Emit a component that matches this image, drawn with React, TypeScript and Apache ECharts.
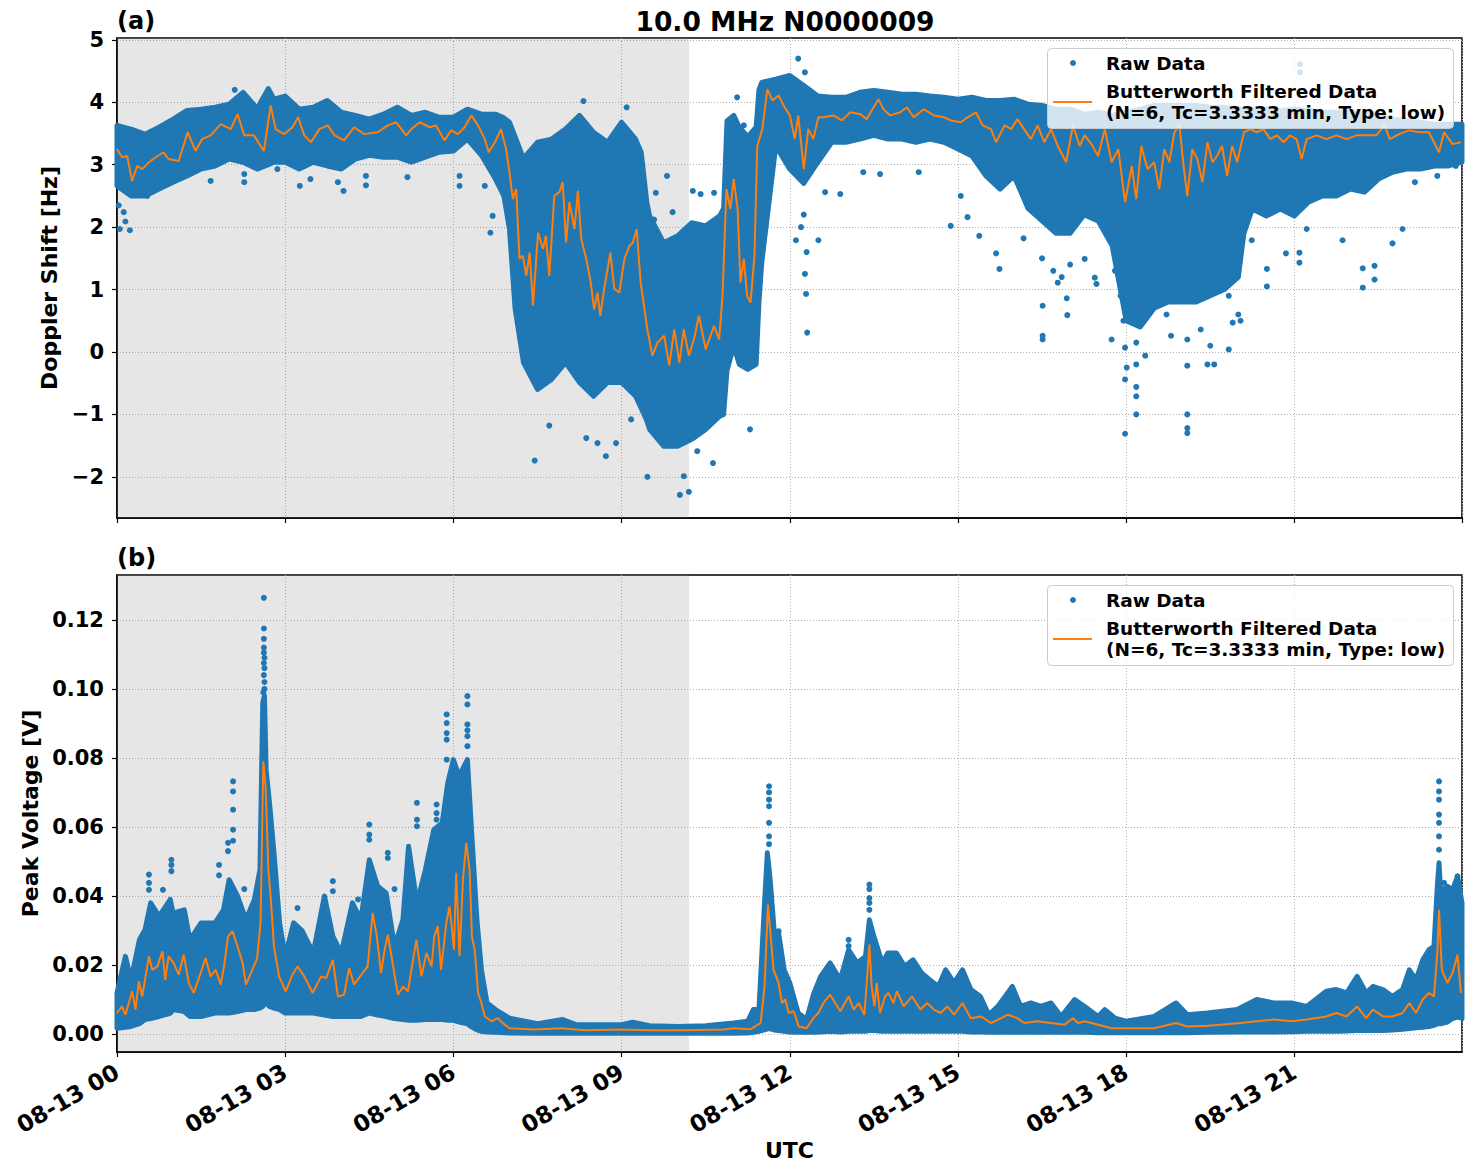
import React, { useEffect, useRef } from "react";
import * as echarts from "echarts";

const BLUE = "#1f77b4";
const ORANGE = "#ff7f0e";
const FONT = '"DejaVu Sans", sans-serif';

const TITLE = "10.0 MHz N0000009";
const DATE_PREFIX = "08-13";
const X_TICKS_INTERVAL = 3;
const Y_TICKS_A = [-2, -1, 0, 1, 2, 3, 4, 5];
const Y_TICKS_B = [0, 0.02, 0.04, 0.06, 0.08, 0.1, 0.12];
const SHADE_START = 0;
const SHADE_END = 10.2;
const LEGEND_RAW = "Raw Data";
const LEGEND_FILT_1 = "Butterworth Filtered Data";
const LEGEND_FILT_2 = "(N=6, Tc=3.3333 min, Type: low)";

// ---------- Panel (a): Doppler shift [Hz] ----------
// dense raw-data cloud: time (h), upper edge, lower edge
const envTimesA = [0, 0.25, 0.5, 0.75, 1, 1.25, 1.5, 1.75, 2, 2.25, 2.5, 2.7, 2.8, 3, 3.25, 3.5, 3.75, 4, 4.25, 4.5, 4.75, 5, 5.25, 5.5, 5.75, 6, 6.25, 6.5, 6.75, 6.9, 7, 7.1, 7.25, 7.5, 7.75, 8, 8.25, 8.5, 8.75, 9, 9.25, 9.35, 9.45, 9.5, 9.75, 10, 10.25, 10.5, 10.75, 10.82, 10.88, 11, 11.1, 11.25, 11.4, 11.45, 11.5, 11.75, 12, 12.25, 12.5, 12.75, 13, 13.25, 13.5, 13.75, 14, 14.25, 14.5, 14.75, 15, 15.25, 15.5, 15.75, 16, 16.25, 16.5, 16.75, 17, 17.25, 17.5, 17.75, 18, 18.25, 18.5, 18.75, 19, 19.25, 19.5, 19.75, 20, 20.1, 20.25, 20.5, 20.75, 21, 21.25, 21.5, 21.75, 22, 22.25, 22.5, 22.75, 23, 23.25, 23.5, 23.75, 23.99];
const envHighA = [3.63, 3.57, 3.49, 3.6, 3.73, 3.87, 3.89, 3.92, 3.97, 4.16, 3.9, 4.22, 4.05, 4.1, 3.89, 3.92, 4.03, 3.84, 3.79, 3.73, 3.81, 3.92, 3.79, 3.84, 3.76, 3.76, 3.89, 3.81, 3.81, 3.75, 3.68, 3.45, 3.1, 3.36, 3.41, 3.57, 3.79, 3.52, 3.36, 3.68, 3.41, 3.2, 2.4, 2.18, 1.75, 1.86, 2.07, 2.02, 2.18, 2.3, 3.7, 3.79, 3.6, 3.45, 3.6, 4.2, 4.32, 4.37, 4.43, 4.27, 4.1, 4.08, 4.08, 4.16, 4.19, 4.16, 4.13, 4.13, 4.1, 4.08, 4.05, 4.08, 4.03, 4.03, 4.05, 3.97, 3.95, 3.89, 3.89, 3.81, 3.84, 3.79, 3.84, 3.89, 3.95, 3.95, 3.95, 3.95, 3.92, 3.92, 3.89, 3.89, 3.89, 3.89, 3.87, 3.89, 3.87, 3.84, 3.84, 3.84, 3.81, 3.79, 3.73, 3.71, 3.68, 3.65, 3.65, 3.65];
const envLowA = [2.66, 2.5, 2.5, 2.61, 2.72, 2.82, 2.93, 2.98, 3.09, 3.04, 2.93, 3.0, 3.04, 3.04, 2.93, 3.04, 2.98, 2.93, 3.09, 3.15, 3.12, 3.12, 3.04, 3.12, 3.2, 3.22, 3.41, 3.15, 2.77, 2.5, 1.97, 0.7, -0.17, -0.6, -0.44, -0.17, -0.49, -0.71, -0.49, -0.49, -0.71, -0.9, -1.1, -1.24, -1.51, -1.51, -1.4, -1.24, -1.03, -1.0, -0.3, 0.1, -0.2, -0.28, -0.2, 0.8, 1.43, 3.3, 2.93, 2.7, 3.04, 3.36, 3.36, 3.41, 3.47, 3.41, 3.41, 3.36, 3.41, 3.36, 3.25, 3.14, 2.82, 2.61, 2.82, 2.3, 2.1, 1.9, 1.9, 2.2, 2.1, 1.7, 0.5, 0.4, 0.7, 0.8, 0.8, 0.8, 0.9, 1.0, 1.2, 1.9, 2.29, 2.18, 2.29, 2.18, 2.4, 2.5, 2.5, 2.61, 2.56, 2.77, 2.88, 2.93, 2.93, 2.98, 2.98, 3.04];

// scattered raw points outside the dense cloud
const outTimesA = [0.05, 0.23, 0.15, 0.12, 0.03, 0.54, 1.67, 2.27, 2.27, 2.1, 2.86, 3.26, 3.45, 4.04, 3.94, 4.44, 4.44, 5.18, 6.11, 6.11, 6.66, 6.56, 6.7, 7.45, 7.71, 8.37, 8.57, 8.72, 8.9, 9.17, 9.46, 10.04, 10.2, 10.11, 10.35, 10.63, 11.29, 8.32, 9.09, 9.81, 9.61, 10.27, 10.41, 10.65, 11.06, 11.18, 11.54, 9.58, 9.91, 12.15, 12.27, 12.31, 12.29, 12.27, 12.11, 12.51, 12.9, 12.63, 13.31, 13.61, 14.3, 14.87, 15.05, 15.17, 15.38, 15.74, 15.68, 16.17, 16.51, 16.51, 16.51, 16.95, 16.94, 16.78, 17.44, 17.74, 17.98, 17.98, 18.01, 17.98, 17.47, 17.26, 18.18, 18.18, 18.18, 19.09, 19.09, 19.09, 19.57, 19.09, 19.83, 18.34, 20.04, 20.51, 20.51, 20.85, 21.09, 21.09, 21.1, 21.1, 22.22, 22.22, 22.43, 22.43, 22.75, 22.93, 21.86, 20.24, 21.22, 23.15, 23.55, 23.88, 12.25, 12.3, 12.2, 18.18, 18.18, 18.72, 18.8, 19.09, 19.33, 19.45, 19.5, 19.83, 19.9, 20.0, 16.5, 16.7, 16.85, 17.0, 17.8, 17.9, 17.95];
const outValsA = [1.97, 1.95, 2.09, 2.24, 2.35, 2.5, 2.74, 2.72, 2.85, 4.2, 2.93, 2.66, 2.77, 2.58, 2.72, 2.67, 2.82, 2.8, 2.66, 2.82, 1.91, 2.66, 2.18, -1.74, -1.18, -1.38, -1.46, -1.67, -1.46, -1.08, -2.0, -2.29, -2.24, -1.99, -1.59, -1.78, -1.24, 4.02, 3.92, 2.82, 2.55, 2.58, 2.53, 2.55, 4.08, 3.63, 2.24, 2.12, 2.24, 4.7, 4.48, 0.31, 0.93, 1.25, 1.79, 1.79, 2.53, 2.56, 2.88, 2.85, 2.88, 2.02, 2.5, 2.16, 1.86, 1.33, 1.58, 1.82, 0.74, 0.2, 0.26, 0.59, 0.86, 1.11, 1.19, 0.2, -1.31, -0.44, -0.25, 0.07, 1.09, 1.49, -1.0, -0.71, -0.56, -1.0, -1.22, -1.3, -0.2, -0.22, 0.04, -0.06, 0.5, 1.05, 1.33, 1.58, 1.43, 1.59, 4.61, 4.48, 1.03, 1.34, 1.16, 1.38, 1.74, 1.97, 1.79, 1.79, 1.97, 2.72, 2.82, 2.98, 2.2, 1.6, 2.0, 0.15, -0.2, 0.6, 0.26, 0.2, 0.36, -0.2, 0.1, 0.9, 0.47, 0.6, 1.5, 1.3, 1.2, 1.4, 1.3, 0.9, 0.5];

// Butterworth filtered line
const filtTimesA = [0, 0.09, 0.18, 0.27, 0.36, 0.45, 0.57, 0.69, 0.83, 0.92, 1.1, 1.26, 1.4, 1.52, 1.67, 1.85, 2.03, 2.15, 2.27, 2.44, 2.62, 2.74, 2.83, 2.98, 3.13, 3.23, 3.34, 3.46, 3.61, 3.76, 3.88, 4.05, 4.23, 4.41, 4.65, 4.83, 4.98, 5.16, 5.25, 5.4, 5.58, 5.69, 5.84, 5.96, 6.08, 6.2, 6.32, 6.44, 6.56, 6.63, 6.74, 6.85, 6.94, 7.0, 7.06, 7.12, 7.18, 7.24, 7.3, 7.36, 7.42, 7.51, 7.6, 7.65, 7.71, 7.8, 7.89, 7.95, 8.01, 8.07, 8.16, 8.22, 8.28, 8.37, 8.45, 8.51, 8.57, 8.62, 8.69, 8.8, 8.87, 8.96, 9.05, 9.14, 9.2, 9.27, 9.34, 9.46, 9.55, 9.64, 9.76, 9.85, 9.94, 10.03, 10.11, 10.2, 10.29, 10.38, 10.5, 10.65, 10.74, 10.8, 10.87, 10.94, 11.0, 11.07, 11.12, 11.18, 11.24, 11.3, 11.37, 11.42, 11.51, 11.6, 11.69, 11.8, 11.89, 12.0, 12.09, 12.15, 12.25, 12.33, 12.42, 12.51, 12.6, 12.78, 12.93, 13.08, 13.26, 13.37, 13.58, 13.67, 13.79, 13.97, 14.09, 14.21, 14.39, 14.57, 14.75, 14.87, 15.05, 15.17, 15.32, 15.44, 15.59, 15.68, 15.83, 15.95, 16.06, 16.18, 16.3, 16.42, 16.54, 16.66, 16.78, 16.93, 17.05, 17.17, 17.26, 17.38, 17.5, 17.62, 17.74, 17.86, 17.98, 18.1, 18.18, 18.27, 18.38, 18.5, 18.59, 18.68, 18.77, 18.86, 18.95, 19.03, 19.09, 19.18, 19.27, 19.36, 19.45, 19.54, 19.62, 19.71, 19.8, 19.89, 19.98, 20.1, 20.21, 20.33, 20.45, 20.57, 20.69, 20.81, 20.92, 21.04, 21.13, 21.22, 21.4, 21.57, 21.75, 21.93, 22.11, 22.28, 22.46, 22.61, 22.7, 22.87, 23.04, 23.23, 23.4, 23.58, 23.67, 23.82, 23.97];
const filtValsA = [3.25, 3.12, 3.14, 2.74, 2.98, 2.93, 3.04, 3.12, 3.2, 3.09, 3.06, 3.52, 3.22, 3.41, 3.47, 3.65, 3.57, 3.81, 3.47, 3.47, 3.22, 3.95, 3.57, 3.49, 3.6, 3.76, 3.47, 3.36, 3.57, 3.63, 3.47, 3.39, 3.6, 3.49, 3.52, 3.63, 3.68, 3.47, 3.57, 3.68, 3.6, 3.63, 3.39, 3.55, 3.49, 3.6, 3.79, 3.63, 3.41, 3.2, 3.36, 3.57, 3.25, 2.88, 2.45, 2.61, 1.49, 1.54, 1.22, 1.59, 0.74, 1.91, 1.65, 1.86, 1.22, 2.5, 2.56, 2.72, 1.75, 2.4, 1.97, 2.58, 1.81, 1.49, 1.11, 0.68, 0.95, 0.58, 1.01, 1.59, 1.01, 0.95, 1.49, 1.7, 1.75, 1.97, 1.11, 0.36, -0.06, 0.15, 0.26, -0.22, 0.36, -0.17, 0.36, -0.06, 0.2, 0.58, 0.04, 0.42, 0.2, 0.9, 2.61, 2.29, 2.77, 2.29, 1.11, 1.49, 0.9, 0.79, 1.54, 3.3, 3.57, 4.21, 4.03, 4.11, 3.95, 3.79, 3.41, 3.79, 2.93, 3.57, 3.41, 3.76, 3.76, 3.79, 3.71, 3.84, 3.81, 3.73, 4.05, 3.89, 3.79, 3.84, 3.92, 3.76, 3.89, 3.79, 3.76, 3.71, 3.68, 3.76, 3.84, 3.63, 3.57, 3.36, 3.63, 3.57, 3.73, 3.57, 3.41, 3.63, 3.36, 3.57, 3.3, 3.04, 3.63, 3.3, 3.47, 3.33, 3.14, 3.57, 3.04, 3.25, 2.4, 2.98, 2.45, 3.3, 2.93, 3.04, 2.61, 3.25, 3.04, 3.52, 3.63, 2.93, 2.5, 3.25, 3.09, 2.72, 3.36, 3.04, 3.14, 3.3, 2.82, 3.3, 3.04, 3.52, 3.57, 3.52, 3.57, 3.41, 3.47, 3.36, 3.47, 3.41, 3.09, 3.41, 3.47, 3.41, 3.47, 3.41, 3.47, 3.47, 3.47, 3.63, 3.41, 3.49, 3.55, 3.52, 3.52, 3.2, 3.52, 3.33, 3.36];

// ---------- Panel (b): Peak voltage [V] ----------
const envTimesB = [0, 0.15, 0.25, 0.4, 0.5, 0.6, 0.75, 0.95, 1, 1.2, 1.3, 1.5, 1.75, 1.9, 2, 2.15, 2.3, 2.45, 2.55, 2.6, 2.63, 2.66, 2.72, 2.8, 2.9, 3, 3.15, 3.3, 3.5, 3.7, 3.85, 4, 4.2, 4.35, 4.5, 4.65, 4.8, 4.95, 5.1, 5.2, 5.35, 5.5, 5.65, 5.8, 5.9, 6, 6.1, 6.25, 6.33, 6.42, 6.5, 6.6, 6.75, 7, 7.5, 7.95, 8.2, 9, 9.2, 9.5, 10, 10.5, 11, 11.25, 11.35, 11.45, 11.55, 11.6, 11.65, 11.72, 11.8, 11.9, 12, 12.15, 12.3, 12.42, 12.55, 12.72, 12.9, 13.05, 13.2, 13.35, 13.42, 13.5, 13.65, 13.75, 13.9, 14.05, 14.2, 14.35, 14.5, 14.65, 14.78, 14.93, 15.08, 15.23, 15.4, 15.55, 15.71, 15.97, 16.12, 16.3, 16.48, 16.66, 16.84, 17.08, 17.26, 17.5, 17.62, 17.8, 18, 18.5, 18.89, 19.09, 19.45, 19.98, 20.33, 20.63, 20.95, 21.22, 21.57, 21.75, 21.93, 22.12, 22.28, 22.4, 22.58, 22.75, 22.93, 23.05, 23.17, 23.29, 23.4, 23.49, 23.55, 23.58, 23.62, 23.73, 23.82, 23.91, 23.99];
const envHighB = [0.0119, 0.0225, 0.0157, 0.0273, 0.0302, 0.038, 0.0341, 0.039, 0.035, 0.036, 0.0273, 0.0322, 0.0322, 0.036, 0.0447, 0.04, 0.0331, 0.039, 0.0476, 0.096, 0.098, 0.0766, 0.067, 0.0525, 0.0322, 0.0225, 0.0322, 0.03, 0.0235, 0.04, 0.0283, 0.0235, 0.038, 0.0331, 0.0505, 0.0428, 0.0409, 0.0254, 0.0331, 0.0544, 0.038, 0.0476, 0.0592, 0.0612, 0.0728, 0.0795, 0.0747, 0.0795, 0.0573, 0.0331, 0.0186, 0.009, 0.0071, 0.0046, 0.003, 0.0042, 0.0027, 0.0027, 0.0034, 0.0024, 0.0022, 0.0024, 0.0032, 0.0037, 0.0071, 0.0071, 0.038, 0.0525, 0.0447, 0.0302, 0.0293, 0.0186, 0.0148, 0.0061, 0.0042, 0.0114, 0.0167, 0.0206, 0.0157, 0.0244, 0.0206, 0.0225, 0.0331, 0.0283, 0.0206, 0.0235, 0.0235, 0.0196, 0.0215, 0.0177, 0.0157, 0.0138, 0.0186, 0.0148, 0.0186, 0.0129, 0.0109, 0.0056, 0.008, 0.0138, 0.008, 0.009, 0.008, 0.009, 0.0051, 0.01, 0.008, 0.0051, 0.0071, 0.0046, 0.0037, 0.0051, 0.009, 0.0056, 0.0061, 0.0071, 0.01, 0.009, 0.009, 0.008, 0.0124, 0.0129, 0.0119, 0.0167, 0.0119, 0.0138, 0.0129, 0.0109, 0.0129, 0.0186, 0.0157, 0.0215, 0.0244, 0.0254, 0.0428, 0.0496, 0.038, 0.0428, 0.0418, 0.0457, 0.038];
const envLowB = [0.0017, 0.002, 0.0022, 0.003, 0.0042, 0.0045, 0.0051, 0.006, 0.0071, 0.0065, 0.0051, 0.0051, 0.0061, 0.0061, 0.0061, 0.0065, 0.0071, 0.0071, 0.0075, 0.008, 0.009, 0.009, 0.008, 0.0075, 0.0071, 0.0061, 0.0061, 0.0061, 0.0061, 0.0055, 0.0051, 0.0051, 0.0051, 0.0051, 0.0061, 0.0055, 0.0051, 0.0045, 0.0042, 0.004, 0.004, 0.0042, 0.0042, 0.0042, 0.004, 0.004, 0.0035, 0.003, 0.002, 0.0012, 0.0008, 0.0006, 0.0005, 0.0003, 0.0002, 0.0002, 0.0002, 0.0002, 0.0002, 0.0002, 0.0002, 0.0002, 0.0002, 0.0003, 0.0005, 0.0008, 0.0012, 0.0015, 0.0015, 0.0012, 0.001, 0.0008, 0.0006, 0.0005, 0.0005, 0.0005, 0.0006, 0.0008, 0.0006, 0.0008, 0.0008, 0.0008, 0.001, 0.001, 0.0008, 0.0008, 0.0008, 0.0008, 0.0008, 0.0008, 0.0008, 0.0008, 0.0008, 0.0008, 0.0008, 0.0006, 0.0006, 0.0005, 0.0005, 0.0005, 0.0005, 0.0005, 0.0005, 0.0005, 0.0005, 0.0005, 0.0005, 0.0004, 0.0004, 0.0004, 0.0004, 0.0004, 0.0004, 0.0004, 0.0005, 0.0006, 0.0006, 0.0006, 0.0007, 0.0008, 0.0008, 0.0008, 0.0009, 0.001, 0.001, 0.001, 0.001, 0.0012, 0.0014, 0.0016, 0.0018, 0.002, 0.0022, 0.0025, 0.003, 0.003, 0.003, 0.0035, 0.0045, 0.005, 0.0045];

const outTimesB = [2.62, 2.62, 2.62, 2.62, 2.62, 2.63, 2.62, 2.63, 2.62, 2.63, 2.63, 2.61, 2.07, 2.07, 2.07, 2.07, 2.07, 1.98, 1.98, 0.57, 0.57, 0.57, 0.97, 0.97, 0.97, 0.82, 3.85, 3.85, 4.5, 4.5, 4.5, 4.83, 4.83, 5.35, 5.35, 5.35, 5.7, 5.7, 5.7, 5.88, 5.88, 5.88, 5.88, 5.88, 6.25, 6.25, 6.25, 6.25, 6.25, 6.25, 6.05, 6.05, 11.63, 11.63, 11.63, 11.63, 11.63, 11.63, 11.63, 11.8, 13.42, 13.42, 13.42, 13.42, 13.42, 13.05, 13.05, 23.58, 23.58, 23.58, 23.58, 23.58, 23.58, 23.58, 23.91, 23.91, 23.67, 23.67, 1.82, 1.82, 2.27, 3.22, 4.3, 4.95];
const outValsB = [0.1264, 0.1175, 0.1145, 0.112, 0.1105, 0.109, 0.1075, 0.106, 0.104, 0.102, 0.1, 0.099, 0.0732, 0.0703, 0.065, 0.0592, 0.056, 0.0554, 0.053, 0.0462, 0.0438, 0.0418, 0.0505, 0.049, 0.0472, 0.0418, 0.0443, 0.0414, 0.0607, 0.0578, 0.0563, 0.0525, 0.051, 0.067, 0.0621, 0.0602, 0.0665, 0.064, 0.0621, 0.0926, 0.0901, 0.0872, 0.0853, 0.0795, 0.0979, 0.0955, 0.0897, 0.088, 0.0863, 0.0834, 0.0766, 0.0689, 0.0718, 0.07, 0.0679, 0.066, 0.0612, 0.0573, 0.055, 0.0298, 0.0433, 0.042, 0.0394, 0.038, 0.036, 0.0273, 0.0255, 0.0732, 0.0703, 0.0679, 0.0636, 0.0612, 0.0573, 0.0534, 0.0457, 0.044, 0.0438, 0.042, 0.049, 0.046, 0.042, 0.0365, 0.039, 0.042];

const filtTimesB = [0, 0.09, 0.15, 0.27, 0.33, 0.39, 0.45, 0.51, 0.57, 0.63, 0.72, 0.81, 0.86, 0.92, 1.01, 1.1, 1.19, 1.28, 1.37, 1.46, 1.58, 1.67, 1.76, 1.85, 1.91, 1.98, 2.06, 2.15, 2.24, 2.3, 2.39, 2.5, 2.56, 2.61, 2.65, 2.7, 2.74, 2.8, 2.89, 3.01, 3.13, 3.22, 3.34, 3.49, 3.64, 3.73, 3.85, 3.94, 4.05, 4.14, 4.23, 4.38, 4.47, 4.56, 4.63, 4.71, 4.77, 4.83, 4.92, 5.01, 5.1, 5.19, 5.28, 5.34, 5.43, 5.52, 5.61, 5.66, 5.72, 5.78, 5.87, 5.93, 5.97, 6.01, 6.05, 6.11, 6.17, 6.23, 6.29, 6.33, 6.38, 6.44, 6.5, 6.56, 6.68, 6.79, 6.88, 7.0, 7.45, 7.92, 8.34, 8.99, 9.52, 10.11, 10.83, 11.0, 11.3, 11.48, 11.55, 11.61, 11.66, 11.71, 11.8, 11.86, 11.92, 11.98, 12.07, 12.16, 12.3, 12.42, 12.51, 12.6, 12.72, 12.81, 12.9, 13.05, 13.14, 13.23, 13.33, 13.39, 13.42, 13.46, 13.51, 13.55, 13.61, 13.7, 13.76, 13.85, 13.91, 14.03, 14.18, 14.33, 14.45, 14.57, 14.69, 14.81, 14.93, 15.08, 15.23, 15.41, 15.59, 15.77, 15.89, 16.06, 16.18, 16.42, 16.66, 16.9, 17.05, 17.14, 17.26, 17.5, 17.74, 17.98, 18.5, 18.89, 19.09, 19.45, 19.68, 20.04, 20.33, 20.63, 20.95, 21.22, 21.57, 21.75, 21.93, 22.12, 22.28, 22.4, 22.58, 22.75, 22.93, 23.05, 23.17, 23.29, 23.4, 23.49, 23.55, 23.58, 23.63, 23.73, 23.82, 23.91, 23.97];
const filtValsB = [0.0061, 0.008, 0.0056, 0.0124, 0.0071, 0.0153, 0.0109, 0.0167, 0.0225, 0.0186, 0.0196, 0.024, 0.0157, 0.0225, 0.0206, 0.0172, 0.023, 0.0148, 0.0119, 0.0162, 0.022, 0.0167, 0.0186, 0.0143, 0.0196, 0.0283, 0.0298, 0.0254, 0.0206, 0.0143, 0.0177, 0.022, 0.0322, 0.079, 0.0718, 0.0476, 0.0399, 0.0254, 0.0167, 0.0124, 0.0172, 0.0196, 0.0167, 0.0119, 0.0167, 0.0162, 0.0215, 0.0109, 0.0114, 0.0191, 0.0143, 0.0177, 0.0196, 0.0351, 0.0288, 0.0177, 0.024, 0.0288, 0.0201, 0.0114, 0.0138, 0.0124, 0.0215, 0.0273, 0.0167, 0.0235, 0.0196, 0.0283, 0.0312, 0.0186, 0.0317, 0.037, 0.0311, 0.0244, 0.0467, 0.0225, 0.0447, 0.0554, 0.0476, 0.0283, 0.0244, 0.0119, 0.009, 0.0051, 0.0037, 0.0046, 0.0032, 0.0017, 0.0013, 0.0017, 0.0011, 0.0013, 0.0011, 0.0011, 0.0013, 0.0017, 0.0014, 0.0032, 0.0138, 0.0375, 0.0283, 0.0186, 0.0148, 0.009, 0.01, 0.0061, 0.0066, 0.0022, 0.0017, 0.0046, 0.0061, 0.009, 0.0114, 0.009, 0.0066, 0.0109, 0.0071, 0.009, 0.0056, 0.0186, 0.0259, 0.0138, 0.008, 0.0148, 0.0061, 0.0109, 0.0119, 0.009, 0.0124, 0.008, 0.0109, 0.0071, 0.009, 0.0071, 0.0061, 0.008, 0.0056, 0.009, 0.0046, 0.0051, 0.0032, 0.0046, 0.0056, 0.0046, 0.0032, 0.0037, 0.0032, 0.0027, 0.0046, 0.0032, 0.0037, 0.0027, 0.0017, 0.0017, 0.0017, 0.0032, 0.0022, 0.0024, 0.0027, 0.0032, 0.0037, 0.0042, 0.0037, 0.0042, 0.0051, 0.0061, 0.0051, 0.008, 0.0046, 0.0071, 0.0051, 0.0051, 0.0061, 0.009, 0.0061, 0.01, 0.0119, 0.0109, 0.0235, 0.036, 0.0186, 0.0148, 0.0177, 0.023, 0.0119];

// ---------- helpers ----------
const zip = (t: number[], v: number[]) => t.map((x, i) => [x, v[i]]);
const fmtA = (v: number) => (v < 0 ? "\u2212" + Math.abs(v) : String(v));
const fmtB = (v: number) => v.toFixed(2);
const fmtX = (v: number) => `${DATE_PREFIX} ${String(v).padStart(2, "0")}`;

const gridLineStyle = { color: "#b0b0b0", width: 1, type: [1, 2] as any };
const nameFont = { fontSize: 22, fontWeight: "bold" as const, fontFamily: FONT, color: "#000" };

function xAxis(gridIndex: number, showLabels: boolean, name?: string) {
  return {
    type: "value",
    gridIndex,
    min: 0,
    max: 23.99,
    interval: X_TICKS_INTERVAL,
    name,
    nameLocation: "middle",
    nameGap: 87,
    nameTextStyle: nameFont,
    axisLine: { show: true, onZero: false, lineStyle: { color: "#000", width: 1.5 } },
    axisTick: { show: true, length: 5, lineStyle: { color: "#000", width: 1.2 } },
    axisLabel: {
      show: showLabels, rotate: 30, margin: 18, showMaxLabel: false, formatter: fmtX,
      fontSize: 23, fontWeight: "bold", fontFamily: FONT, color: "#000",
    },
    splitLine: { show: true, lineStyle: gridLineStyle },
  };
}

function yAxis(gridIndex: number, min: number, max: number, ticks: number[], fmt: (v: number) => string, name: string, gap: number) {
  return {
    type: "value",
    gridIndex,
    min,
    max,
    name,
    nameLocation: "middle",
    nameGap: gap,
    nameTextStyle: nameFont,
    axisLine: { show: true, onZero: false, lineStyle: { color: "#000", width: 1.5 } },
    axisTick: { show: true, length: 5, customValues: ticks, lineStyle: { color: "#000", width: 1.2 } },
    axisLabel: {
      show: true, margin: 13, customValues: ticks, formatter: fmt,
      fontSize: 21, fontWeight: "bold", fontFamily: FONT, color: "#000",
    },
    splitLine: { show: true, lineStyle: gridLineStyle },
  };
}

function shadeSeries(idx: number) {
  return {
    type: "custom",
    xAxisIndex: idx,
    yAxisIndex: idx,
    z: 1,
    silent: true,
    data: [[SHADE_START, 0]],
    renderItem: (params: any, api: any) => {
      const cs = params.coordSys;
      const x0 = api.coord([SHADE_START, 0])[0];
      const x1 = api.coord([SHADE_END, 0])[0];
      return {
        type: "rect",
        shape: { x: x0, y: cs.y, width: x1 - x0, height: cs.height },
        style: { fill: "rgba(128,128,128,0.2)" },
      };
    },
  };
}

function bandSeries(idx: number, times: number[], high: number[], low: number[]) {
  return {
    type: "custom",
    xAxisIndex: idx,
    yAxisIndex: idx,
    z: 2,
    silent: true,
    data: [[times[0], low[0]]],
    renderItem: (_params: any, api: any) => {
      const pts: number[][] = [];
      for (let i = 0; i < times.length; i++) pts.push(api.coord([times[i], high[i]]));
      for (let i = times.length - 1; i >= 0; i--) pts.push(api.coord([times[i], low[i]]));
      return {
        type: "polygon",
        shape: { points: pts },
        style: { fill: BLUE, stroke: BLUE, lineWidth: 5, lineJoin: "round" },
      };
    },
  };
}

function scatterSeries(idx: number, t: number[], v: number[]) {
  return {
    type: "scatter",
    xAxisIndex: idx,
    yAxisIndex: idx,
    z: 2,
    silent: true,
    symbolSize: 6,
    itemStyle: { color: BLUE, opacity: 1 },
    data: zip(t, v),
  };
}

function lineSeries(idx: number, t: number[], v: number[]) {
  return {
    type: "line",
    xAxisIndex: idx,
    yAxisIndex: idx,
    z: 3,
    silent: true,
    symbol: "none",
    showSymbol: false,
    lineStyle: { color: ORANGE, width: 2 },
    data: zip(t, v),
  };
}

function legendGraphic(top: number) {
  const f = `bold 18.5px ${FONT}`;
  return [
    {
      type: "rect",
      z: 100,
      shape: { x: 1047.5, y: top + 0.5, width: 406, height: 80, r: 4 },
      style: { fill: "rgba(255,255,255,0.8)", stroke: "#cccccc", lineWidth: 1 },
    },
    { type: "circle", z: 101, shape: { cx: 1073, cy: top + 15, r: 3 }, style: { fill: BLUE } },
    { type: "line", z: 101, shape: { x1: 1053, y1: top + 54, x2: 1092, y2: top + 54 }, style: { stroke: ORANGE, lineWidth: 2 } },
    { type: "text", z: 101, x: 1106, y: top + 15, style: { text: LEGEND_RAW, font: f, fill: "#000", textAlign: "left", textVerticalAlign: "middle" } },
    { type: "text", z: 101, x: 1106, y: top + 43, style: { text: LEGEND_FILT_1, font: f, fill: "#000", textAlign: "left", textVerticalAlign: "middle" } },
    { type: "text", z: 101, x: 1106, y: top + 64, style: { text: LEGEND_FILT_2, font: f, fill: "#000", textAlign: "left", textVerticalAlign: "middle" } },
  ];
}

function buildOption() {
  return {
    animation: false,
    backgroundColor: "#ffffff",
    textStyle: { fontFamily: FONT },
    grid: [
      { left: 117, right: 9, top: 38, height: 480, show: true, borderColor: "#000", borderWidth: 1.5, backgroundColor: "transparent" },
      { left: 117, right: 9, top: 575, height: 477, show: true, borderColor: "#000", borderWidth: 1.5, backgroundColor: "transparent" },
    ],
    xAxis: [xAxis(0, false), xAxis(1, true, "UTC")],
    yAxis: [
      yAxis(0, -2.66, 5.03, Y_TICKS_A, fmtA, "Doppler Shift [Hz]", 48),
      yAxis(1, -0.0052, 0.133, Y_TICKS_B, fmtB, "Peak Voltage [V]", 71),
    ],
    series: [
      shadeSeries(0),
      bandSeries(0, envTimesA, envHighA, envLowA),
      scatterSeries(0, outTimesA, outValsA),
      lineSeries(0, filtTimesA, filtValsA),
      shadeSeries(1),
      bandSeries(1, envTimesB, envHighB, envLowB),
      scatterSeries(1, outTimesB, outValsB),
      lineSeries(1, filtTimesB, filtValsB),
    ],
    graphic: [
      { type: "text", z: 100, x: 785, y: 21, style: { text: TITLE, font: `bold 26.5px ${FONT}`, fill: "#000", textAlign: "center", textVerticalAlign: "middle" } },
      { type: "text", z: 100, x: 117, y: 21, style: { text: "(a)", font: `bold 24px ${FONT}`, fill: "#000", textAlign: "left", textVerticalAlign: "middle" } },
      { type: "text", z: 100, x: 117, y: 558, style: { text: "(b)", font: `bold 24px ${FONT}`, fill: "#000", textAlign: "left", textVerticalAlign: "middle" } },
      ...legendGraphic(48),
      ...legendGraphic(585),
    ],
  };
}

export default function App() {
  const ref = useRef<HTMLDivElement>(null);
  useEffect(() => {
    document.body.style.margin = "0";
    const chart = echarts.init(ref.current as HTMLDivElement, undefined, { renderer: "svg" });
    chart.setOption(buildOption() as any);
    return () => chart.dispose();
  }, []);
  return <div ref={ref} style={{ width: 1471, height: 1172 }} />;
}
